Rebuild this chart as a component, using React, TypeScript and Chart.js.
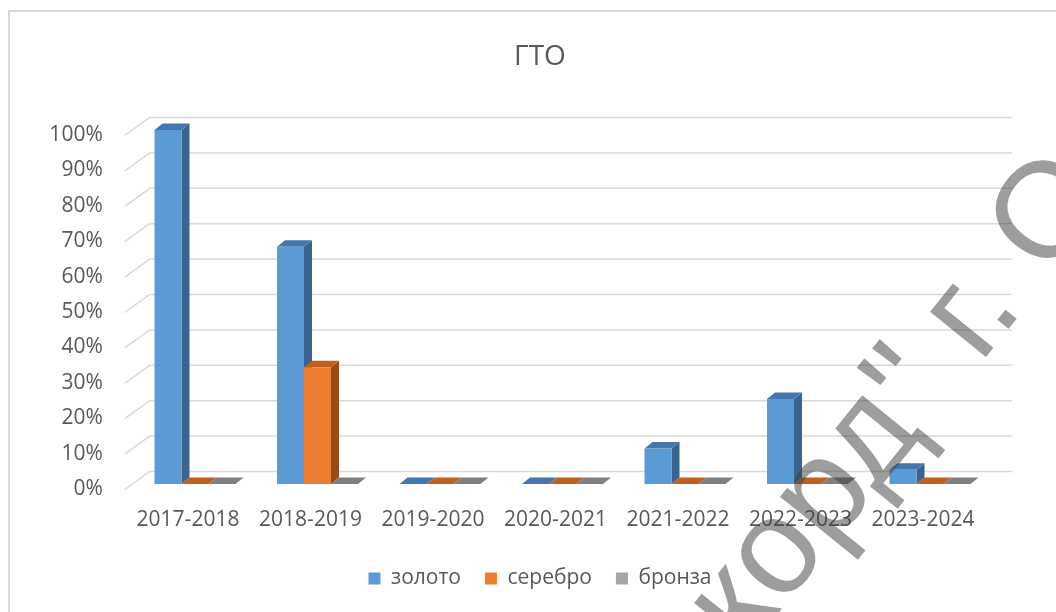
import React, { useEffect, useRef } from "react";
import { Chart, registerables } from "chart.js";

Chart.register(...registerables);

const categories = ["2017-2018", "2018-2019", "2019-2020", "2020-2021", "2021-2022", "2022-2023", "2023-2024"];
const gold = [100, 67, 0, 0, 10, 24, 4];
const silver = [0, 33, 0, 0, 0, 0, 0];
const bronze = [0, 0, 0, 0, 0, 0, 0];
const seriesNames = ["золото", "серебро", "бронза"];
const yTicks = [0, 10, 20, 30, 40, 50, 60, 70, 80, 90, 100];
const titleText = "ГТО";
const watermarkBefore = 'Рекорд" г';
const watermarkText = 'Рекорд" г. О';

const FRONT = ["#5B9BD5", "#ED7D31", "#A5A5A5"];
const TOP = ["#4677AC", "#C0601F", "#7F7F7F"];
const SIDE = ["#3A648F", "#9A4A16", "#6A6A6A"];
const DX = 8;
const DY = -6.5;
const FONT = "'Open Sans', 'Liberation Sans', sans-serif";

const fake3d = {
  id: "fake3d",
  beforeDatasetsDraw(chart: any) {
    const { ctx, chartArea: ca, scales } = chart;
    const ys = scales.y;
    ctx.save();
    ctx.strokeStyle = "#D9D9D9";
    ctx.lineWidth = 2;
    ctx.beginPath();
    ctx.moveTo(9, 612);
    ctx.lineTo(9, 11);
    ctx.lineTo(1056, 11);
    ctx.stroke();
    ctx.lineWidth = 1.5;
    ctx.strokeStyle = "#D9D9D9";
    yTicks.forEach((v) => {
      const py = ys.getPixelForValue(v);
      ctx.beginPath();
      ctx.moveTo(ca.left - 9, py + 5.5);
      ctx.lineTo(ca.left + 16, py - 12.5);
      ctx.lineTo(ca.right + 21, py - 12.5);
      ctx.stroke();
    });
    const n = categories.length;
    for (let i = 0; i < n; i++) {
      for (let d = 0; d < chart.data.datasets.length; d++) {
        const el: any = chart.getDatasetMeta(d).data[i];
        if (!el) continue;
        const x0 = el.x - el.width / 2;
        const x1 = el.x + el.width / 2;
        const top = el.y;
        const base = el.base;
        if (base - top > 0.5) {
          ctx.fillStyle = SIDE[d];
          ctx.beginPath();
          ctx.moveTo(x1, top);
          ctx.lineTo(x1 + DX, top + DY);
          ctx.lineTo(x1 + DX, base + DY);
          ctx.lineTo(x1, base);
          ctx.closePath();
          ctx.fill();
        }
        ctx.fillStyle = TOP[d];
        ctx.beginPath();
        ctx.moveTo(x0, top);
        ctx.lineTo(x1, top);
        ctx.lineTo(x1 + DX, top + DY);
        ctx.lineTo(x0 + DX, top + DY);
        ctx.closePath();
        ctx.fill();
      }
    }
    ctx.restore();
  },
  afterDraw(chart: any) {
    const { ctx } = chart;
    ctx.save();
    ctx.font = "136px 'Liberation Sans', sans-serif";
    ctx.fillStyle = "rgba(60,60,60,0.5)";
    ctx.translate(982, 302);
    ctx.rotate((-51 * Math.PI) / 180);
    const w = ctx.measureText(watermarkBefore).width;
    ctx.fillText(watermarkText, -w, 0);
    ctx.restore();
  },
};

export default function App() {
  const ref = useRef<HTMLCanvasElement>(null);
  useEffect(() => {
    if (!ref.current) return;
    const chart = new Chart(ref.current, {
      type: "bar",
      data: {
        labels: categories,
        datasets: [gold, silver, bronze].map((vals, d) => ({
          label: seriesNames[d],
          data: vals,
          backgroundColor: FRONT[d],
          borderWidth: 0,
          barPercentage: 1,
          categoryPercentage: 0.661,
        })),
      },
      options: {
        responsive: false,
        animation: false,
        devicePixelRatio: 1,
        layout: { padding: { left: 24, right: 0, top: 0, bottom: 13 } },
        plugins: {
          tooltip: { enabled: false },
          title: {
            display: true,
            text: titleText,
            color: "#595959",
            font: { family: FONT, size: 28, weight: "normal" },
            padding: { top: 40, bottom: 56.4 },
          },
          legend: {
            position: "bottom",
            labels: {
              boxWidth: 12,
              boxHeight: 12,
              padding: 24,
              color: "#595959",
              font: { family: FONT, size: 21 },
            },
          },
        },
        scales: {
          x: {
            grid: { display: false, drawTicks: false },
            border: { display: false },
            ticks: {
              color: "#595959",
              font: { family: FONT, size: 21 },
              padding: 23,
              labelOffset: -7,
              maxRotation: 0,
              autoSkip: false,
            },
            afterFit(s: any) {
              s.height = 60;
            },
          },
          y: {
            min: 0,
            max: 100,
            grid: { display: false, drawTicks: false },
            border: { display: false },
            ticks: {
              stepSize: 10,
              color: "#595959",
              font: { family: FONT, size: 21 },
              padding: 31,
              labelOffset: 5,
              callback: (v: any) => v + "%",
            },
            afterFit(s: any) {
              s.width = 109.75;
            },
          },
          y2: {
            position: "right",
            display: true,
            grid: { display: false, drawTicks: false },
            border: { display: false },
            ticks: { display: false },
            afterFit(s: any) {
              s.width = 64.75;
            },
          },
        },
      },
      plugins: [fake3d],
    });
    return () => chart.destroy();
  }, []);
  return (
    <div style={{ position: "fixed", left: 0, top: 0, width: 1056, height: 612, background: "#fff" }}>
      <canvas ref={ref} width={1056} height={612} />
    </div>
  );
}
